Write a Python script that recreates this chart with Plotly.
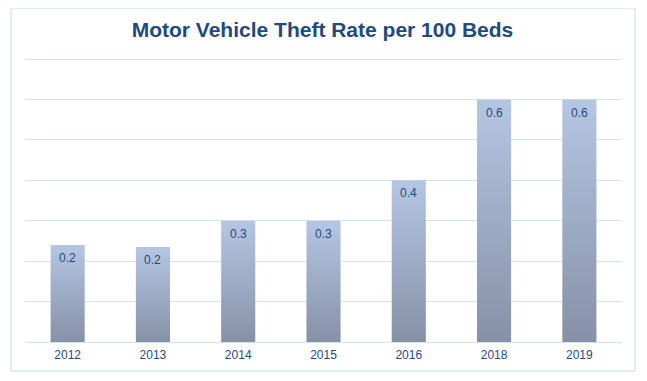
import plotly.graph_objects as go

years = ["2012", "2013", "2014", "2015", "2016", "2018", "2019"]
rates = [0.24, 0.235, 0.30, 0.30, 0.40, 0.60, 0.60]
labels = ["0.2", "0.2", "0.3", "0.3", "0.4", "0.6", "0.6"]
y_ticks = [0, 0.1, 0.2, 0.3, 0.4, 0.5, 0.6, 0.7]

BAR_W = 0.4
TEXT_COLOR = "#1F4A7E"
GRID_COLOR = "#D5E2EF"
TOP_COLOR = "#B5C6E3"
BOTTOM_COLOR = "#8691A7"

# page body has an 8px margin; figure coordinates are page coordinates - 8
OFF = 8
W, H = 647 - 2 * OFF, 381 - 2 * OFF
Y_MAX = 0.72
L = 25 - OFF
R = W - (622 - OFF)
B = H - (342 - OFF)
px_per_unit = (342 - 59) / 0.7
T = round((342 - OFF) - Y_MAX * px_per_unit)
pw, ph = W - L - R, H - T - B

fig = go.Figure()

for i, (yr, v) in enumerate(zip(years, rates)):
    xs = [i - BAR_W / 2, i + BAR_W / 2, i + BAR_W / 2, i - BAR_W / 2, i - BAR_W / 2]
    ys = [0, 0, v, v, 0]
    fig.add_trace(go.Scatter(
        x=xs, y=ys, mode="lines", fill="toself",
        line=dict(width=0, color="rgba(0,0,0,0)"),
        fillgradient=dict(type="vertical",
                          colorscale=[[0, BOTTOM_COLOR], [1, TOP_COLOR]]),
        name=yr, showlegend=False, hoverinfo="skip",
    ))

for i, (v, t) in enumerate(zip(rates, labels)):
    fig.add_annotation(x=i, y=v, text=t, showarrow=False, yanchor="top",
                       yshift=-4, font=dict(size=12, color=TEXT_COLOR,
                                            family="Arial, Liberation Sans"))

fig.add_shape(type="rect", xref="paper", yref="paper",
              x0=(11 - OFF - L) / pw, x1=(635 - OFF - L) / pw,
              y0=((H - B) - (371 - OFF)) / ph, y1=((H - B) - (8 - OFF)) / ph,
              line=dict(color="#C9DAEC", width=1), fillcolor="rgba(0,0,0,0)",
              layer="below")

fig.update_layout(
    width=W, height=H,
    margin=dict(l=L, r=R, t=T, b=B),
    paper_bgcolor="white", plot_bgcolor="white",
    title=dict(text="<b>Motor Vehicle Theft Rate per 100 Beds</b>",
               x=(322.5 - OFF) / W, xanchor="center", y=1 - (30 - OFF) / H,
               yanchor="middle",
               font=dict(size=21, color=TEXT_COLOR, family="Arial, Liberation Sans")),
    font=dict(family="Arial, Liberation Sans", color=TEXT_COLOR, size=12),
    xaxis=dict(range=[-0.5, len(years) - 0.5], tickvals=list(range(len(years))),
               ticktext=years, showgrid=False, zeroline=False,
               showline=True, linecolor=GRID_COLOR, linewidth=1,
               ticks="", ticklabelstandoff=2,
               tickfont=dict(size=12, color=TEXT_COLOR), fixedrange=True),
    yaxis=dict(range=[0, Y_MAX], tickvals=y_ticks, showticklabels=False,
               showgrid=True, gridcolor=GRID_COLOR, gridwidth=1,
               zeroline=False, fixedrange=True),
    showlegend=False,
)

fig.write_html("out.html")
